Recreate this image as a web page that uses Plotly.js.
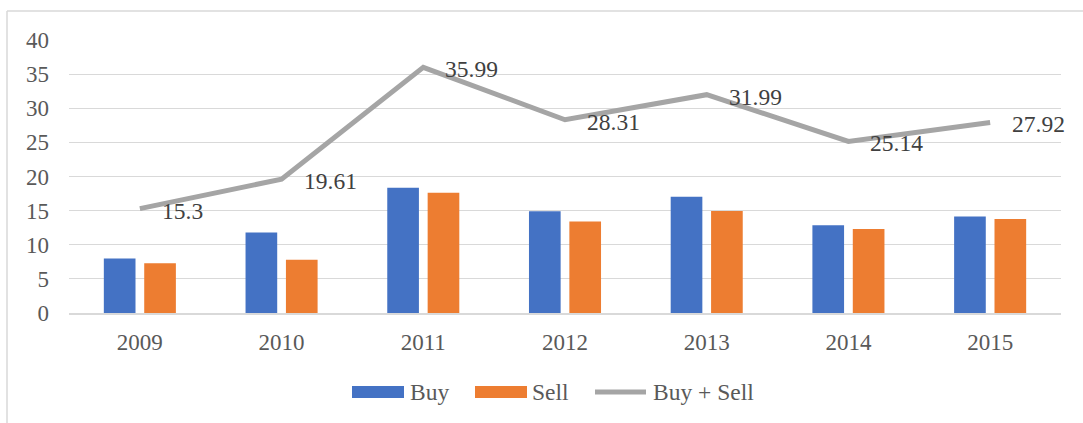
<!DOCTYPE html>
<html>
<head>
<meta charset="utf-8">
<script src="https://cdn.plot.ly/plotly-3.0.1.min.js"></script>
<style>
  html, body { margin: 0; padding: 0; background: #ffffff; }
  #chart { width: 1083px; height: 423px; }
</style>
</head>
<body>
<div id="chart"></div>
<script>
const years = ["2009", "2010", "2011", "2012", "2013", "2014", "2015"];
const buy   = [8.0, 11.8, 18.36, 14.9, 17.04, 12.84, 14.15];
const sell  = [7.3, 7.81, 17.63, 13.41, 14.95, 12.3, 13.77];
const total = [15.3, 19.61, 35.99, 28.31, 31.99, 25.14, 27.92];
const seriesNames = ["Buy", "Sell", "Buy + Sell"];
const yTicks = [0, 5, 10, 15, 20, 25, 30, 35, 40];

const FONT = "Liberation Serif, Times New Roman, serif";
const COLORS = ["#4472c4", "#ed7d31", "#a5a5a5"];

const traces = [
  { type: "bar", name: seriesNames[0], x: years, y: buy, marker: { color: COLORS[0] }, hoverinfo: "skip" },
  { type: "bar", name: seriesNames[1], x: years, y: sell, marker: { color: COLORS[1] }, hoverinfo: "skip" },
  { type: "scatter", mode: "lines", name: seriesNames[2], x: years, y: total,
    line: { color: COLORS[2], width: 5 }, hoverinfo: "skip" }
];

// plot area in pixels: left 69, right 1061, top 40, bottom 313
const PL = 69, PW = 992, PB = 313, PH = 273;
const px = v => (v - PL) / PW;
const py = v => (PB - v) / PH;

// data labels at category index positions
const annotations = years.map((yr, i) => ({
  x: i, y: total[i], xref: "x", yref: "y",
  text: String(total[i]), showarrow: false,
  xanchor: "left", yanchor: "middle", xshift: 20, yshift: -2,
  font: { family: FONT, size: 23.5, color: "#404040" }
}));

// custom legend (wide swatches like the reference)
const legendSwatchX = [352, 475, 593];
const legendTextX = [408, 530, 651];
const legendY = 392;
const shapes = [
  { type: "line", xref: "paper", yref: "paper", x0: px(7), x1: px(1090),
    y0: py(11), y1: py(11), line: { color: "#d9d9d9", width: 1.5 }, layer: "below" },
  { type: "line", xref: "paper", yref: "paper", x0: px(7), x1: px(7),
    y0: py(11), y1: py(430), line: { color: "#d9d9d9", width: 1.5 }, layer: "below" },
  { type: "rect", xref: "paper", yref: "paper", x0: px(legendSwatchX[0]), x1: px(legendSwatchX[0] + 52),
    y0: py(legendY - 6), y1: py(legendY + 6), fillcolor: COLORS[0], line: { width: 0 } },
  { type: "rect", xref: "paper", yref: "paper", x0: px(legendSwatchX[1]), x1: px(legendSwatchX[1] + 52),
    y0: py(legendY - 6), y1: py(legendY + 6), fillcolor: COLORS[1], line: { width: 0 } },
  { type: "line", xref: "paper", yref: "paper", x0: px(legendSwatchX[2] + 2), x1: px(legendSwatchX[2] + 53),
    y0: py(legendY), y1: py(legendY), line: { color: COLORS[2], width: 5 } }
];
seriesNames.forEach((n, i) => {
  annotations.push({
    xref: "paper", yref: "paper", x: px(legendTextX[i]), y: py(legendY),
    text: n, showarrow: false, xanchor: "left", yanchor: "middle",
    font: { family: FONT, size: 23.5, color: "#595959" }
  });
});

const layout = {
  width: 1083, height: 423,
  margin: { l: PL, r: 1083 - PL - PW, t: 40, b: 423 - PB },
  paper_bgcolor: "#ffffff", plot_bgcolor: "#ffffff",
  barmode: "group", bargap: 0.43, bargroupgap: 0.216,
  showlegend: false,
  xaxis: {
    type: "category", range: [-0.5, years.length - 0.5], autorange: false,
    showgrid: false, showline: true, linecolor: "#d9d9d9", linewidth: 1.5,
    ticks: "", ticklabelstandoff: 8,
    tickfont: { family: FONT, size: 23, color: "#595959" }, fixedrange: true
  },
  yaxis: {
    range: [0, 40], autorange: false, tickvals: yTicks, showgrid: true, gridcolor: "#d9d9d9", gridwidth: 1.2,
    zeroline: false, showline: false, ticks: "", ticklabelstandoff: 19,
    tickfont: { family: FONT, size: 23, color: "#595959" }, fixedrange: true
  },
  annotations: annotations,
  shapes: shapes,
  font: { family: FONT }
};

Plotly.newPlot("chart", traces, layout, { displayModeBar: false, staticPlot: true });
</script>
</body>
</html>
